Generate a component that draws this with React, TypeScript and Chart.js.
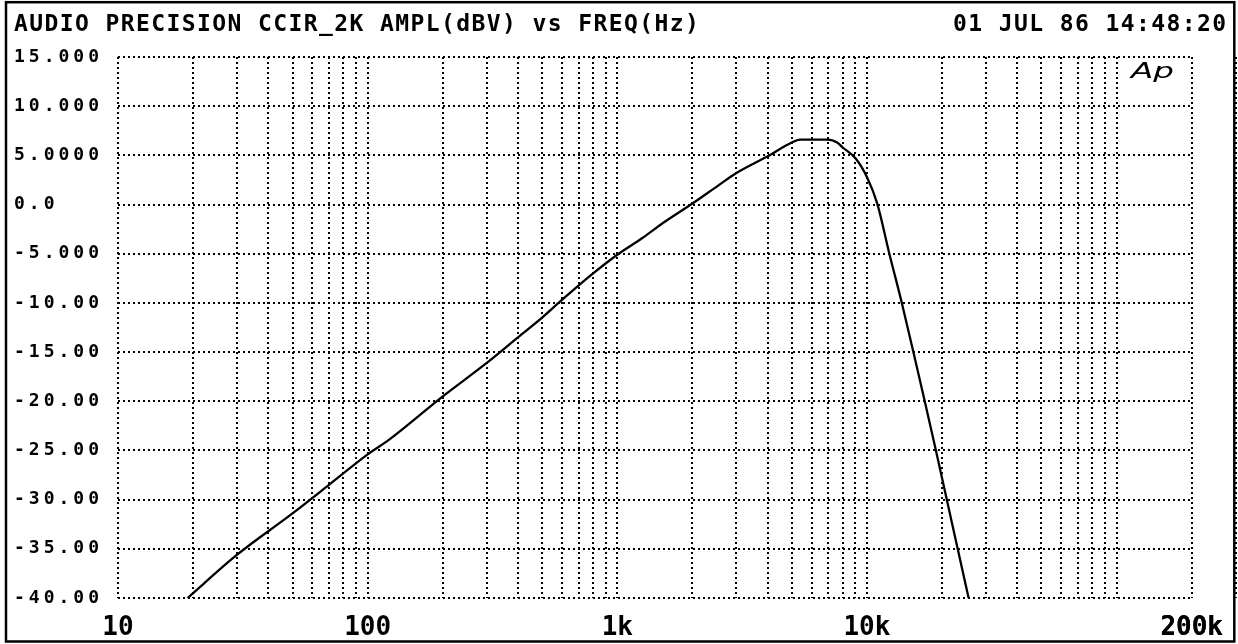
import React, { useEffect, useRef } from "react";
import { Chart, registerables } from "chart.js";

Chart.register(...registerables);

// ---- Text ----
const TITLE_TEXT = "AUDIO PRECISION CCIR_2K AMPL(dBV) vs FREQ(Hz)";
const DATE_TEXT = "01 JUL 86 14:48:20";
const LOGO_TEXT = "Ap";

const FREQ_HZ = [
  19, 30, 50, 70, 100, 122, 200, 300, 400, 500, 600, 800, 1000, 1260, 1560,
  2000, 2560, 3000, 4000, 5000, 5400, 6300, 7000, 7600, 8000, 9000, 10000,
  11000, 12300, 13800, 15350, 17050, 18900, 20900, 23100, 25600,
];
const AMPL_DBV = [
  -40.0, -35.6, -31.4, -28.5, -25.4, -23.9, -19.5, -16.1, -13.5, -11.5, -9.7,
  -7.0, -5.1, -3.4, -1.7, 0.1, 2.0, 3.2, 4.9, 6.3, 6.6, 6.6, 6.6, 6.3, 5.8,
  4.7, 2.8, 0.1, -5.0, -10.0, -15.0, -20.0, -25.0, -30.0, -35.0, -40.1,
];

// ---- Axes ----
const X_MIN = 10;
const X_MAX = 200000;
const X_DECADES = [10, 100, 1000, 10000, 100000];
const X_MULTIPLES = [1, 2, 3, 4, 5, 6, 7, 8, 9];
const X_LABEL_VALUES = [10, 100, 1000, 10000, 200000];
const X_LABEL_TEXTS = ["10", "100", "1k", "10k", "200k"];

const Y_MIN = -40;
const Y_MAX = 15;
const Y_STEP = 5;
const Y_TICK_VALUES = [15, 10, 5, 0, -5, -10, -15, -20, -25, -30, -35, -40];
const Y_TICK_LABELS = [
  "15.000", "10.000", "5.0000", "0.0", "-5.000", "-10.00", "-15.00",
  "-20.00", "-25.00", "-30.00", "-35.00", "-40.00",
];

const X_GRID_VALUES: number[] = [];
X_DECADES.forEach((d) => X_MULTIPLES.forEach((m) => X_GRID_VALUES.push(d * m)));
X_GRID_VALUES.push(X_MAX);

const MONO = "'DejaVu Sans Mono', 'Liberation Mono', monospace";

const decorPlugin = {
  id: "apDecor",
  beforeDraw(chart: any) {
    const ctx = chart.ctx;
    ctx.save();
    ctx.fillStyle = "#ffffff";
    ctx.fillRect(0, 0, chart.width, chart.height);
    ctx.restore();
  },
  afterDatasetsDraw(chart: any) {
    // y tick labels (z = 1) are drawn right after this hook: widen their spacing
    (chart.ctx as any).letterSpacing = "4px";
  },
  afterDraw(chart: any) {
    const ctx = chart.ctx as any;
    ctx.letterSpacing = "0px";

    // header texts
    ctx.save();
    ctx.fillStyle = "#000";
    ctx.font = `bold 23px ${MONO}`;
    ctx.letterSpacing = "1.4px";
    ctx.textBaseline = "alphabetic";
    ctx.textAlign = "left";
    ctx.fillText(TITLE_TEXT, 14, 31);
    ctx.textAlign = "right";
    ctx.fillText(DATE_TEXT, 1227.4, 31);
    ctx.restore();

    // logo
    ctx.save();
    ctx.fillStyle = "#000";
    ctx.translate(1131, 78);
    ctx.scale(1.55, 1);
    ctx.font = "oblique 21px 'DejaVu Sans', sans-serif";
    ctx.textBaseline = "alphabetic";
    ctx.textAlign = "left";
    ctx.fillText(LOGO_TEXT, 0, 0);
    ctx.restore();

    // outer frame
    ctx.save();
    ctx.lineWidth = 2.5;
    ctx.strokeStyle = "#000";
    ctx.strokeRect(6, 2.2, 1228.3, 639.3);
    ctx.restore();
  },
};

export default function App() {
  const canvasRef = useRef<HTMLCanvasElement>(null);

  useEffect(() => {
    const canvas = canvasRef.current;
    if (!canvas) return;
    const chart = new Chart(canvas, {
      type: "line",
      data: {
        datasets: [
          {
            data: FREQ_HZ.map((f, i) => ({ x: f, y: AMPL_DBV[i] })),
            borderColor: "#000",
            borderWidth: 2.3,
            pointRadius: 0,
            fill: false,
            cubicInterpolationMode: "monotone",
          },
        ],
      },
      options: {
        animation: false,
        responsive: false,
        devicePixelRatio: 1,
        layout: { padding: { left: 14, top: 57, right: 46, bottom: 0 } },
        plugins: {
          legend: { display: false },
          tooltip: { enabled: false },
          title: { display: false },
        },
        scales: {
          x: {
            type: "logarithmic",
            min: X_MIN,
            max: X_MAX,
            afterBuildTicks: (scale: any) => {
              scale.ticks = X_GRID_VALUES.map((v) => ({ value: v }));
            },
            afterFit: (scale: any) => {
              scale.height = 46;
            },
            ticks: {
              autoSkip: false,
              maxRotation: 0,
              minRotation: 0,
              padding: 15,
              color: "#000",
              font: { family: MONO, size: 26, weight: "bold" },
              callback: (v: any) => {
                const i = X_LABEL_VALUES.indexOf(Number(v));
                return i >= 0 ? X_LABEL_TEXTS[i] : "";
              },
            },
            grid: { color: "#000", lineWidth: 2, drawTicks: false },
            border: { display: false, dash: [2, 3] },
          },
          y: {
            type: "linear",
            min: Y_MIN,
            max: Y_MAX,
            ticks: {
              stepSize: Y_STEP,
              autoSkip: false,
              crossAlign: "far",
              padding: 19.5,
              z: 1,
              color: "#000",
              font: { family: MONO, size: 18, weight: "bold" },
              callback: (v: any) => {
                const i = Y_TICK_VALUES.indexOf(Math.round(Number(v)));
                return i >= 0 ? Y_TICK_LABELS[i] : "";
              },
            },
            grid: { color: "#000", lineWidth: 2, drawTicks: false },
            border: { display: false, dash: [2, 3] },
          },
        },
      },
      plugins: [decorPlugin],
    } as any);
    return () => chart.destroy();
  }, []);

  return (
    <div
      style={{
        position: "fixed",
        left: 0,
        top: 0,
        width: 1238,
        height: 644,
        background: "#fff",
      }}
    >
      <canvas
        ref={canvasRef}
        width={1238}
        height={644}
        style={{ display: "block", width: 1238, height: 644 }}
      />
    </div>
  );
}
